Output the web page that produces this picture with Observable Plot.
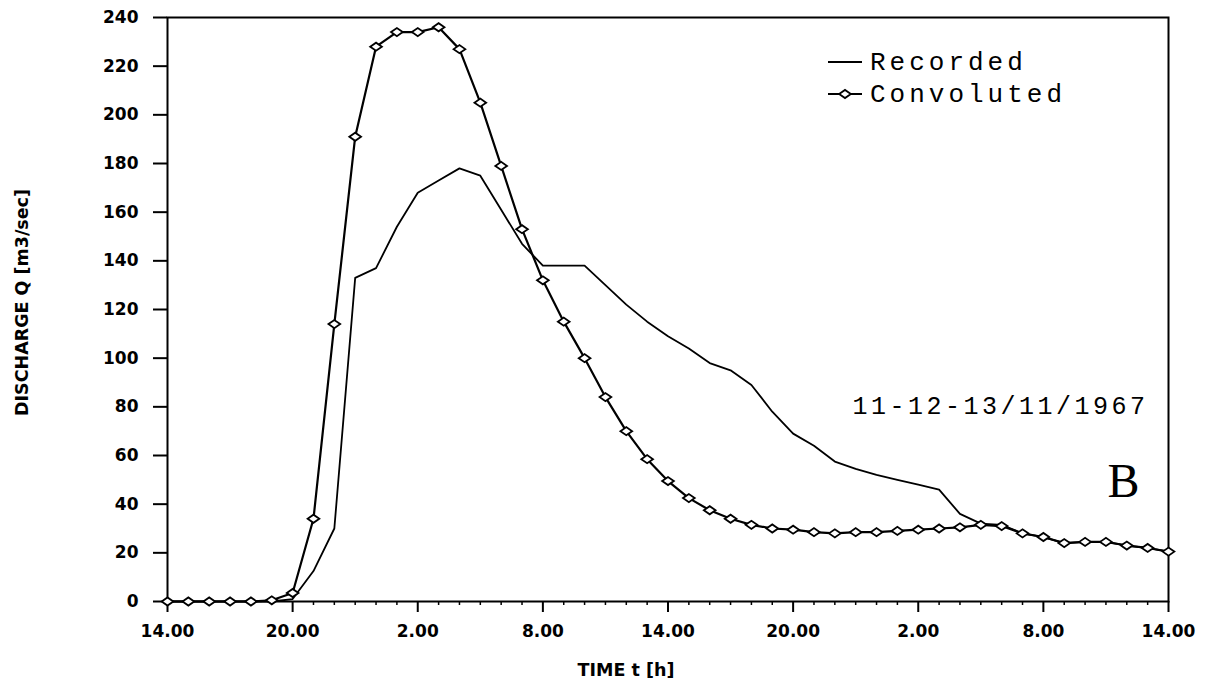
<!DOCTYPE html>
<html><head><meta charset="utf-8">
<script src="https://cdn.jsdelivr.net/npm/d3@7"></script>
<script src="https://cdn.jsdelivr.net/npm/@observablehq/plot@0.6"></script>
<style>
body{margin:0;background:#fff}
#chart{position:relative;width:1212px;height:683px}
</style>
</head><body><div id="chart"></div>
<script>
// hours elapsed since 14.00 on 11/11/1967
const hours = [0,1,2,3,4,5,6,7,8,9,10,11,12,13,14,15,16,17,18,19,20,21,22,23,24,25,26,27,28,29,30,31,32,33,34,35,36,37,38,39,40,41,42,43,44,45,46,47,48];
const convoluted = [0,0,0,0,0,0.5,3.5,34,114,191,228,234,234,236,227,205,179,153,132,115,100,84,70,58.5,49.5,42.5,37.5,34,31.5,30,29.5,28.5,28,28.5,28.5,29,29.5,30,30.5,31.5,31,28,26.5,24,24.5,24.5,23,22,20.5];
const recorded = [0,0,0,0,0,0,1,12.5,30,133,137,154,168,173,178,175,161,147,138,138,138,130,122,115,109,104,98,95,89,78,69,64,57.5,54.5,52,50,48,46,36,32,31.5,28,26.5,24,24.5,24.5,23,22,20.5];

const xTickHours = [0,6,12,18,24,30,36,42,48];
const xTickLabels = ["14.00","20.00","2.00","8.00","14.00","20.00","2.00","8.00","14.00"];
const minorTickHours = [7,8,9,10,11,13,14,15,16,17,19,20,21,22,23,25,26,27,28,29,31,32,33,34,35,37,38,39,40,41,43,44,45,46,47];
const yTicks = [0,20,40,60,80,100,120,140,160,180,200,220,240];

const seriesNames = ["Recorded","Convoluted"];
const dateLabel = [{t:39.94, q:80.5, label:"11-12-13/11/1967"}];
const panelLabel = [{t:45.84, q:49.3, label:"B"}];
const yTitle = "DISCHARGE Q [m3/sec]";
const xTitle = "TIME t [h]";

const recRows = hours.map((t,i)=>({t, q:recorded[i]}));
const convRows = hours.map((t,i)=>({t, q:convoluted[i]}));

// wide open diamond marker
const diamond = { draw(ctx, size){ const r=Math.sqrt(size/Math.PI); const w=r*1.3, h=r*0.9;
  ctx.moveTo(-w,0); ctx.lineTo(0,-h); ctx.lineTo(w,0); ctx.lineTo(0,h); ctx.closePath(); } };

const chart = Plot.plot({
  width:1212, height:683,
  marginLeft:167, marginRight:44, marginTop:17, marginBottom:82,
  style:{fontFamily:"DejaVu Sans", fontSize:"17px", fontWeight:"bold", color:"#000", background:"#fff"},
  x:{domain:[0,48]},
  y:{domain:[0,240]},
  marks:[
    Plot.axisY({ticks:yTicks, tickSize:14, tickPadding:15, label:null, strokeWidth:2, tickFormat:d=>String(d)}),
    Plot.axisX({ticks:minorTickHours, tickSize:4, tickFormat:()=>"", label:null, strokeWidth:1.5}),
    Plot.axisX({ticks:xTickHours, tickSize:11, tickPadding:12, label:null, strokeWidth:2,
      tickFormat:d=>xTickLabels[xTickHours.indexOf(d)]}),
    Plot.frame({stroke:"#000", strokeWidth:2}),
    Plot.line(recRows, {x:"t", y:"q", stroke:"#000", strokeWidth:1.8}),
    Plot.line(convRows, {x:"t", y:"q", stroke:"#000", strokeWidth:2.2}),
    Plot.dot(convRows, {x:"t", y:"q", symbol:diamond, r:4.5, fill:"#fff", stroke:"#000", strokeWidth:1.8}),
    Plot.text(dateLabel, {x:"t", y:"q", text:"label", fontFamily:"Liberation Mono", fontSize:25, fontWeight:"normal", fill:"#000", lineAnchor:"middle", ariaLabel:()=>"datelabel"}),
    Plot.text(panelLabel, {x:"t", y:"q", text:"label", fontFamily:"Liberation Serif", fontSize:48, fontWeight:"normal", fill:"#000", lineAnchor:"middle"}),
    Plot.text([yTitle], {frameAnchor:"left", dx:-145, dy:-7, rotate:-90, textAnchor:"middle", lineAnchor:"middle", fontSize:17.5, fontWeight:"bold", fill:"#000"}),
    Plot.text([xTitle], {frameAnchor:"bottom", dx:-42, dy:69, lineAnchor:"middle", fontSize:17.5, fontWeight:"bold", fill:"#000"})
  ]
});

const svg = d3.select(chart);
svg.selectAll("text").filter(function(){ return this.textContent === dateLabel[0].label; })
  .style("letter-spacing","3.5px");

// legend
const lg = svg.append("g").attr("font-family","Liberation Mono").attr("font-size",26)
  .attr("font-weight","normal").attr("fill","#000").attr("text-anchor","start");
const rows = [{name:seriesNames[0], y:62, marker:false},{name:seriesNames[1], y:94, marker:true}];
rows.forEach(r=>{
  lg.append("line").attr("x1",828).attr("x2",862).attr("y1",r.y).attr("y2",r.y).attr("stroke","#000").attr("stroke-width",2);
  if(r.marker){
    const p=d3.path(); diamond.draw(p, 4.5*4.5*Math.PI);
    lg.append("path").attr("d",p.toString()).attr("transform",`translate(845,${r.y})`).attr("fill","#fff").attr("stroke","#000").attr("stroke-width",1.8);
  }
  lg.append("text").attr("x",870).attr("y",r.y+8).attr("text-anchor","start").style("letter-spacing","4px").text(r.name);
});

document.getElementById("chart").appendChild(chart);
</script>
</body></html>
